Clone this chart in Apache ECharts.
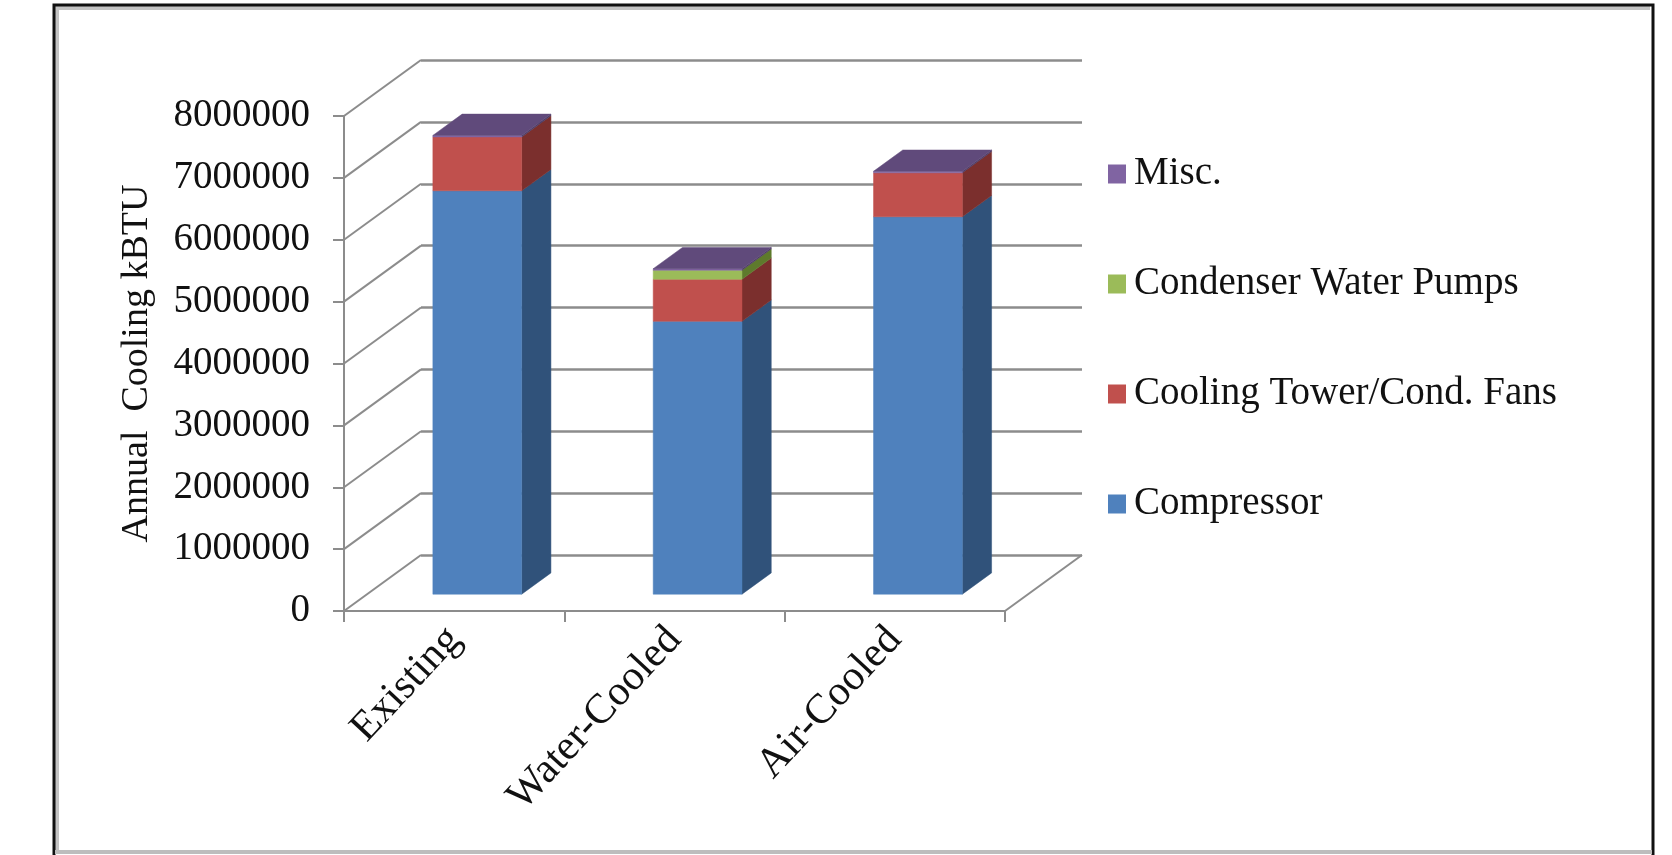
<!DOCTYPE html>
<html>
<head>
<meta charset="utf-8">
<script src="https://cdn.jsdelivr.net/npm/echarts@6/dist/echarts.min.js"></script>
<style>
  html, body { margin: 0; padding: 0; background: #fff; }
  #chart { width: 1672px; height: 855px; }
</style>
</head>
<body>
<div id="chart"></div>
<script>
// Annual cooling energy by plant option (kBTU), stacked by end use
const categories = ['Existing', 'Water-Cooled', 'Air-Cooled'];
const compressor = [6520000, 4410000, 6100000];
const coolingTower = [870000, 680000, 710000];
const condenserPumps = [0, 145000, 0];
const misc = [25000, 25000, 25000];
const yTicks = [0, 1000000, 2000000, 3000000, 4000000, 5000000, 6000000, 7000000, 8000000];
const seriesNames = ['Compressor', 'Cooling Tower/Cond. Fans', 'Condenser Water Pumps', 'Misc.'];
const legendOrder = ['Misc.', 'Condenser Water Pumps', 'Cooling Tower/Cond. Fans', 'Compressor'];

// face colours: front, right side, top
const palette = [
  { front: '#4F81BD', side: '#30527A', top: '#3E6797' },
  { front: '#C0504D', side: '#7B2F2D', top: '#9A3E3B' },
  { front: '#9BBB59', side: '#5E7A2C', top: '#7C9A43' },
  { front: '#8064A2', side: '#4E3C66', top: '#604A7B' }
];

const FONT = '"Liberation Serif", "Times New Roman", serif';
const FRONT = { left: 344, top: 116, width: 661, height: 495 };
const DEPTH = [77, -56];          // front wall -> back wall offset
const BAR_FRONT = 0.30;           // bar front plane, share of depth
const BAR_DEPTH = 0.38;           // bar thickness, share of depth
const BAR_WIDTH = 0.403;          // bar width, share of category band
const GRID_COLOR = '#8C8C8C';

const stackValues = [compressor, coolingTower, condenserPumps, misc];

// cumulative bases for stacking
function stackedData(k) {
  return categories.map((c, i) => {
    let base = 0;
    for (let j = 0; j < k; j++) base += stackValues[j][i];
    return [i, base, base + stackValues[k][i]];
  });
}

function barRenderer(k) {
  const isTop = k === stackValues.length - 1;
  return function (params, api) {
    const cat = api.value(0), lo = api.value(1), hi = api.value(2);
    if (hi - lo <= 0) return null;
    const pLo = api.coord([cat, lo]);
    const pHi = api.coord([cat, hi]);
    const band = api.size([1, 0])[0];
    const w = band * BAR_WIDTH;
    const fx = DEPTH[0] * BAR_FRONT, fy = DEPTH[1] * BAR_FRONT;
    const bx = DEPTH[0] * BAR_DEPTH, by = DEPTH[1] * BAR_DEPTH;
    const x0 = pLo[0] - w / 2 + fx, x1 = x0 + w;
    const yb = pLo[1] + fy, yt = pHi[1] + fy;
    const c = palette[k];
    const children = [
      { type: 'polygon', shape: { points: [[x1, yb], [x1 + bx, yb + by], [x1 + bx, yt + by], [x1, yt]] },
        style: { fill: c.side, stroke: c.side, lineWidth: 0.5 } },
      { type: 'rect', shape: { x: x0, y: yt, width: w, height: yb - yt },
        style: { fill: c.front, stroke: c.front, lineWidth: 0.5 } }
    ];
    if (isTop) {
      children.push({ type: 'polygon', shape: { points: [[x0, yt], [x0 + bx, yt + by], [x1 + bx, yt + by], [x1, yt]] },
        style: { fill: c.top, stroke: c.top, lineWidth: 0.5 } });
    }
    return { type: 'group', children };
  };
}

// side-wall gridlines: from each front tick back to the rear wall
function sideWallRenderer(params, api) {
  const y = api.coord([0, api.value(1)])[1];
  const x = params.coordSys.x;
  return { type: 'line', shape: { x1: x, y1: y, x2: x + DEPTH[0], y2: y + DEPTH[1] },
    style: { stroke: GRID_COLOR, lineWidth: 2 } };
}

// right edge of the floor
function floorEdgeRenderer(params, api) {
  const y = api.coord([0, api.value(1)])[1];
  const x = params.coordSys.x + params.coordSys.width;
  return { type: 'line', shape: { x1: x, y1: y, x2: x + DEPTH[0], y2: y + DEPTH[1] },
    style: { stroke: GRID_COLOR, lineWidth: 2 } };
}

const yMin = yTicks[0], yMax = yTicks[yTicks.length - 1], yStep = yTicks[1] - yTicks[0];

const chart = echarts.init(document.getElementById('chart'), null, { renderer: 'canvas' });

const barSeries = seriesNames.map((name, k) => ({
  name,
  type: 'custom',
  xAxisIndex: 0, yAxisIndex: 0,
  renderItem: barRenderer(k),
  itemStyle: { color: palette[k].front },
  encode: { x: 0, y: [1, 2] },
  data: stackedData(k),
  z: 5
}));

chart.setOption({
  animation: false,
  backgroundColor: '#ffffff',
  textStyle: { fontFamily: FONT },
  graphic: [
    { type: 'polyline', shape: { points: [[57, 852], [57, 8], [1650, 8]] },
      style: { stroke: '#C4C4C4', lineWidth: 4, fill: null }, z: 0 },
    { type: 'rect', shape: { x: 54, y: 5, width: 1599, height: 853 },
      style: { fill: null, stroke: '#111111', lineWidth: 3 }, z: 1 },
    { type: 'line', shape: { x1: 55, y1: 852, x2: 1652, y2: 852 },
      style: { stroke: '#BDBDBD', lineWidth: 4 }, z: 1 }
  ],
  grid: [
    { left: FRONT.left, top: FRONT.top, width: FRONT.width, height: FRONT.height, containLabel: false },
    { left: FRONT.left + DEPTH[0], top: FRONT.top + DEPTH[1], width: FRONT.width, height: FRONT.height, containLabel: false }
  ],
  xAxis: [
    {
      type: 'category', gridIndex: 0, data: categories, boundaryGap: true,
      axisLine: { show: true, lineStyle: { color: GRID_COLOR, width: 2 } },
      axisTick: { show: true, alignWithLabel: false, interval: 0, length: 11, lineStyle: { color: GRID_COLOR, width: 2 } },
      axisLabel: { rotate: 47, interval: 0, margin: 22, fontSize: 42, fontFamily: FONT, color: '#111' },
      splitLine: { show: false }
    },
    {
      type: 'category', gridIndex: 1, data: categories, show: false
    }
  ],
  yAxis: [
    {
      type: 'value', gridIndex: 0, min: yMin, max: yMax, interval: yStep,
      name: 'Annual  Cooling kBTU', nameLocation: 'middle', nameRotate: 90, nameGap: 188,
      nameTextStyle: { fontSize: 38, fontFamily: FONT, color: '#111' },
      axisLine: { show: true, lineStyle: { color: GRID_COLOR, width: 2 } },
      axisTick: { show: true, length: 11, lineStyle: { color: GRID_COLOR, width: 2 } },
      axisLabel: { margin: 34, fontSize: 39, fontFamily: FONT, color: '#111', formatter: v => String(v) },
      splitLine: { show: false }
    },
    {
      type: 'value', gridIndex: 1, min: yMin, max: yMax, interval: yStep,
      axisLine: { show: false }, axisTick: { show: false }, axisLabel: { show: false },
      splitLine: { show: true, lineStyle: { color: GRID_COLOR, width: 2.5 } }
    }
  ],
  legend: {
    orient: 'vertical', left: 1103, top: 149,
    data: legendOrder.map(n => ({ name: n, icon: 'rect' })),
    itemWidth: 18, itemHeight: 19, itemGap: 70,
    textStyle: { fontSize: 39, fontFamily: FONT, color: '#111', lineHeight: 40, padding: [0, 0, 0, 3] },
    selectedMode: false
  },
  series: [
    {
      type: 'custom', name: 'side-wall', xAxisIndex: 0, yAxisIndex: 0,
      renderItem: sideWallRenderer, encode: { x: 0, y: 1 },
      data: yTicks.map(v => [0, v]), silent: true, z: 1
    },
    {
      type: 'custom', name: 'floor-edge', xAxisIndex: 0, yAxisIndex: 0,
      renderItem: floorEdgeRenderer, encode: { x: 0, y: 1 },
      data: [[0, yMin]], silent: true, z: 1
    },
    ...barSeries
  ]
});
</script>
</body>
</html>
